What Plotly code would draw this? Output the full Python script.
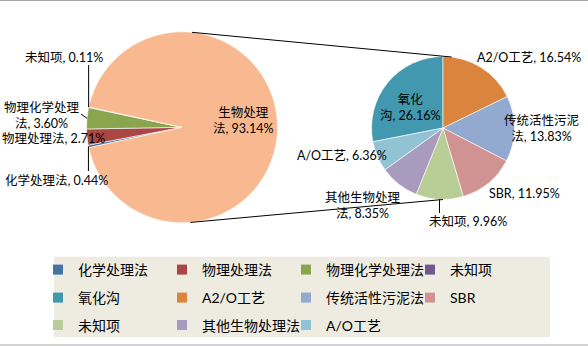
import math
import plotly.graph_objects as go

# ---------------------------------------------------------------- data
main_labels = ["化学处理法", "物理处理法", "物理化学处理法", "未知项", "生物处理法"]
main_values = [0.44, 2.71, 3.60, 0.11, 93.14]
main_colors = ["#4572A7", "#AA4643", "#89A54E", "#71588F", "#F9B990"]

bio_labels = ["氧化沟", "A2/O工艺", "传统活性污泥法", "SBR", "未知项", "其他生物处理法", "A/O工艺"]
bio_values = [26.16, 16.54, 13.83, 11.95, 9.96, 8.35, 6.36]
bio_colors = ["#4198AF", "#DB843D", "#93A9CF", "#D19392", "#B9CD96", "#A99BBD", "#92C3D4"]

# -------------------------------------------------------------- layout
W, H = 588, 346
FONT = "Lato, 'Noto Sans CJK SC', sans-serif"
LABEL_SIZE = 12.5

MAIN_C, MAIN_R = (182.0, 127.3), 95.5
BIO_C, BIO_R = (443.0, 128.0), 71.5

# characters kept on the first line of a wrapped label (0 = one line)
main_wrap = [0, 0, 6, 0, 4]
bio_wrap = [2, 0, 6, 0, 0, 6, 0]

# label centres (px)
main_label_xy = [(56, 180), (53, 138), (41.5, 115.5), (64, 58), (243.5, 120.5)]
bio_label_xy = [(410, 107.7), (529, 57), (541, 129), (524, 193),
                (468, 221), (362.7, 205.8), (341.7, 155)]

# leader lines: (pie, slice index, label-side x or None for vertical, label-side y)
leaders = [("main", 3, None, 65), ("main", 0, None, 171),
           ("main", 2, 81, 114), ("bio", 4, None, 213)]

# connector angles (deg clockwise from 12 o'clock): top, bottom
main_conn = (6, 175)
bio_conn = (7, 180)

# legend rows (y centre in px)
legend_rows_y = [270, 298, 325.5]
LEG_X = 38
ENTRY_W = 79


def norm_angle(a):
    return (a + 180) % 360 - 180


main_total = sum(main_values)
main_rot = norm_angle(270 - sum(main_values[:4]) / main_total * 180)
bio_total = sum(bio_values)
bio_rot = norm_angle(-bio_values[0] / bio_total * 360)

geom = {
    "main": (MAIN_C, MAIN_R, main_values, main_rot),
    "bio": (BIO_C, BIO_R, bio_values, bio_rot),
}


def on_circle(c, r, deg):
    t = math.radians(deg)
    return c[0] + r * math.sin(t), c[1] - r * math.cos(t)


def mid_angle(values, rot, i):
    tot = sum(values)
    return rot + (sum(values[:i]) + values[i] / 2) / tot * 360


def px(x):
    return x / W


def py(y):
    return 1 - y / H


def domain(c, r):
    return dict(x=[px(c[0] - r), px(c[0] + r)], y=[py(c[1] + r), py(c[1] - r)])


def label_text(name, v, wrap):
    s = f"{name}, {v:.2f}%"
    if wrap:
        s = s[:wrap] + "<br>" + s[wrap:]
    return s


fig = go.Figure()

for labels, values, colors, c, r, rot in [
    (main_labels, main_values, main_colors, MAIN_C, MAIN_R, main_rot),
    (bio_labels, bio_values, bio_colors, BIO_C, BIO_R, bio_rot),
]:
    fig.add_trace(go.Pie(
        labels=labels, values=values, sort=False, direction="clockwise",
        rotation=rot, domain=domain(c, r), textinfo="none", textposition="none",
        marker=dict(colors=colors, line=dict(color="white", width=0.6)),
        showlegend=False, hoverinfo="label+percent",
    ))

# legend entries, one legend per row
rows = [
    list(zip(main_labels[:4], main_colors[:4])),
    list(zip(bio_labels[:4], bio_colors[:4])),
    list(zip(bio_labels[4:], bio_colors[4:])),
]
for k, row in enumerate(rows):
    lg = "legend" if k == 0 else f"legend{k + 1}"
    for name, col in row:
        fig.add_trace(go.Scatter(
            x=[None], y=[None], mode="markers", name=name, legend=lg,
            marker=dict(symbol="square", size=10, color=col),
        ))

shapes = []
annotations = []

# beige legend panel
shapes.append(dict(type="rect", xref="paper", yref="paper",
                   x0=px(54), x1=px(550), y0=py(337), y1=py(256.7),
                   fillcolor="#EEECE1", line=dict(width=0), layer="below"))
# chart border lines
for yb in (0.5, 345):
    shapes.append(dict(type="line", xref="paper", yref="paper",
                       x0=0, x1=1, y0=py(yb), y1=py(yb),
                       line=dict(color="#A6A6A6", width=1.2)))

# connectors between the two pies
for am, ab in zip(main_conn, bio_conn):
    p0 = on_circle(MAIN_C, MAIN_R, am)
    p1 = on_circle(BIO_C, BIO_R, ab)
    shapes.append(dict(type="line", xref="paper", yref="paper",
                       x0=px(p0[0]), y0=py(p0[1]), x1=px(p1[0]), y1=py(p1[1]),
                       line=dict(color="black", width=1)))

# leader lines
for pie, i, lx, ly in leaders:
    c, r, vals, rot = geom[pie]
    p = on_circle(c, r, mid_angle(vals, rot, i))
    x_end = p[0] if lx is None else lx
    shapes.append(dict(type="line", xref="paper", yref="paper",
                       x0=px(p[0]), y0=py(p[1]), x1=px(x_end), y1=py(ly),
                       line=dict(color="black", width=1)))

# data labels
for labels, values, wraps, xy in [
    (main_labels, main_values, main_wrap, main_label_xy),
    (bio_labels, bio_values, bio_wrap, bio_label_xy),
]:
    for name, v, wrap, (x, y) in zip(labels, values, wraps, xy):
        annotations.append(dict(
            text=label_text(name, v, wrap), x=px(x), y=py(y),
            xref="paper", yref="paper", showarrow=False,
            xanchor="center", yanchor="middle", align="center",
            font=dict(family=FONT, size=LABEL_SIZE, color="black"),
        ))

legend_style = dict(
    orientation="h", xanchor="left", yanchor="middle",
    entrywidth=ENTRY_W, entrywidthmode="pixels", itemwidth=30,
    bgcolor="rgba(0,0,0,0)", borderwidth=0,
    font=dict(family=FONT, size=14, color="black"),
    itemclick=False, itemdoubleclick=False,
)
layout_legends = {}
for k, yrow in enumerate(legend_rows_y):
    key = "legend" if k == 0 else f"legend{k + 1}"
    layout_legends[key] = dict(legend_style, x=px(LEG_X), y=py(yrow))

fig.update_layout(
    width=W, height=H,
    margin=dict(l=0, r=0, t=0, b=0),
    paper_bgcolor="white", plot_bgcolor="rgba(0,0,0,0)",
    xaxis=dict(visible=False), yaxis=dict(visible=False),
    shapes=shapes, annotations=annotations,
    font=dict(family=FONT),
    **layout_legends,
)

fig.write_html("out.html")
